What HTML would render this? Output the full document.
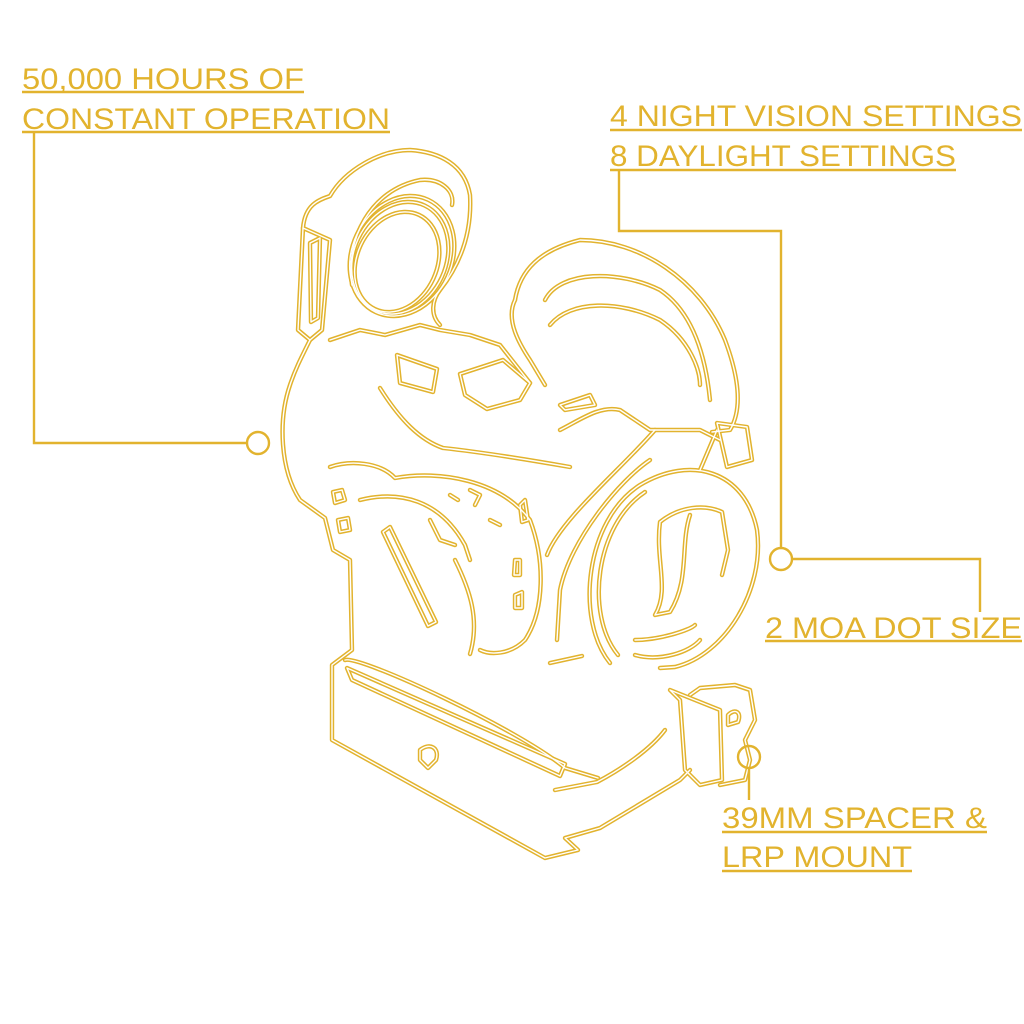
<!DOCTYPE html>
<html><head><meta charset="utf-8">
<style>
html,body{margin:0;padding:0;background:#fff;}
svg{display:block;}
text{font-family:"Liberation Sans",sans-serif;font-size:30px;fill:#E2B32E;}
</style></head>
<body>
<svg width="1024" height="1024" viewBox="0 0 1024 1024" xmlns="http://www.w3.org/2000/svg">
<defs>
<g id="art">
<path d="M303,228 C305,205 318,200 330,196 C345,170 380,150 410,150 C440,152 465,165 470,195 C472,230 462,262 440,290 C432,300 430,315 440,325"/>
<ellipse cx="397" cy="262" rx="40" ry="52" transform="rotate(25 397 262)"/>
<ellipse cx="400" cy="258" rx="46" ry="58" transform="rotate(25 400 258)"/>
<ellipse cx="402" cy="256" rx="50" ry="62" transform="rotate(25 402 256)"/>
<path d="M352,285 C345,240 370,190 420,180 C440,178 455,190 452,205"/>
<path d="M303,228 L298,330 L310,340 L322,330 L330,240 Z"/>
<path d="M310,243 L320,238 L318,318 L311,322 Z"/>
<path d="M310,340 C300,360 295,370 290,385 C278,420 280,470 300,500 L325,518 L333,550 L350,560 L352,650 L332,665 L332,740 L545,858 L578,850 L565,838 L600,828 L680,780 L690,770"/>
<path d="M345,660 C360,655 520,730 565,768 L598,778"/>
<path d="M347,668 L352,680 L560,776 L565,764 Z"/>
<path d="M555,790 L597,782 C620,770 650,750 665,730"/>
<path d="M670,690 L720,710 L722,780 L700,785 L685,770 L680,700 Z"/>
<path d="M690,695 L700,688 L735,685 L750,690 L755,720 L745,740 L750,760 L745,780 L720,785"/>
<path d="M728,715 C735,708 742,712 738,722 L728,725 Z"/>
<path d="M330,340 L360,330 L385,335 L420,325 L440,330 L470,335 L500,345 L530,383"/>
<path d="M380,388 C400,420 420,440 443,448 C480,452 530,460 570,467"/>
<path d="M460,374 L503,360 L530,383 L520,400 L487,409 L465,395 Z"/>
<path d="M397,355 L437,369 L433,392 L400,383 Z"/>
<path d="M515,300 C520,270 540,250 580,240 C640,240 700,280 725,340 C740,380 742,410 730,430 L712,432"/>
<path d="M545,300 C560,270 620,270 660,290 C690,310 705,350 710,400"/>
<path d="M550,325 C570,300 620,300 660,320 C690,340 700,370 700,385"/>
<path d="M515,300 C505,320 520,345 530,360 L545,385"/>
<path d="M560,405 L590,395 L595,405 L565,410 Z"/>
<path d="M560,430 C580,420 600,405 620,410 L650,430 L700,430 L720,440"/>
<path d="M610,663 C575,620 585,520 640,485 C690,455 745,470 757,530 C765,590 725,655 675,667 L660,668"/>
<path d="M618,655 C585,615 595,525 645,492"/>
<path d="M660,522 C680,506 705,504 722,512 L728,550 L722,575 M660,522 C655,560 670,590 655,615 L670,612 C690,580 680,545 690,515"/>
<path d="M635,640 C660,640 690,630 695,625"/>
<path d="M635,655 C660,662 690,652 700,640"/>
<path d="M717,423 L747,427 L752,460 L727,467 Z"/>
<path d="M700,470 L717,430"/>
<path d="M330,467 C350,460 380,462 395,478 C440,470 500,480 530,520 C545,560 545,610 525,640 C510,655 490,655 480,650"/>
<path d="M383,532 L428,626 L436,622 L390,527 Z"/>
<path d="M360,500 C400,490 440,500 465,545 L470,560"/>
<path d="M470,654 C480,620 470,590 455,560"/>
<path d="M547,555 C560,520 620,470 655,430"/>
<path d="M557,640 L560,590 C570,540 620,480 650,460"/>
<path d="M333,492 L342,490 L345,500 L335,503 Z"/>
<path d="M338,520 L348,518 L350,530 L340,532 Z"/>
<path d="M550,663 L582,656"/>
<path d="M420,750 C430,742 440,748 436,760 L428,768 L420,760 Z"/>
<path d="M520,505 L525,500 L528,520 L522,522 Z"/>
<path d="M515,560 L520,560 L520,575 L514,575 Z"/>
<path d="M515,595 L522,592 L522,608 L515,608 Z"/>
<path d="M470,490 L480,495 L475,505 M450,495 L458,500 M490,520 L500,525"/>
<path d="M430,520 L440,540 L455,545"/>
</g>
</defs>
<g fill="none" stroke="#E2B32E" stroke-width="4.4" stroke-linejoin="round" stroke-linecap="round"><use href="#art"/></g>
<g fill="none" stroke="#fff" stroke-width="1.4" stroke-linejoin="round" stroke-linecap="round"><use href="#art"/></g>

<g fill="none" stroke="#E2B32E" stroke-width="2.4">
<path d="M34,132 L34,443 L247,443"/>
<circle cx="258" cy="443" r="11"/>
<path d="M619,170 L619,231 L781,231 L781,548"/>
<circle cx="781" cy="559" r="11"/>
<path d="M792,559 L980,559 L980,612"/>
<circle cx="749" cy="757" r="11"/>
<path d="M749,768 L749,800"/>
<path d="M22,92 L304,92 M22,132 L390,132 M610,130 L1022,130 M610,170 L956,170 M765,641 L1022,641 M722,832 L987,832 M722,871 L912,871"/>
</g>
<text x="22" y="89" textLength="282" lengthAdjust="spacingAndGlyphs">50,000 HOURS OF</text>
<text x="22" y="129" textLength="368" lengthAdjust="spacingAndGlyphs">CONSTANT OPERATION</text>
<text x="610" y="126" textLength="412" lengthAdjust="spacingAndGlyphs">4 NIGHT VISION SETTINGS</text>
<text x="610" y="166" textLength="346" lengthAdjust="spacingAndGlyphs">8 DAYLIGHT SETTINGS</text>
<text x="765" y="638" textLength="257" lengthAdjust="spacingAndGlyphs">2 MOA DOT SIZE</text>
<text x="722" y="828" textLength="265" lengthAdjust="spacingAndGlyphs">39MM SPACER &amp;</text>
<text x="722" y="867" textLength="190" lengthAdjust="spacingAndGlyphs">LRP MOUNT</text>
</svg>
</body></html>
